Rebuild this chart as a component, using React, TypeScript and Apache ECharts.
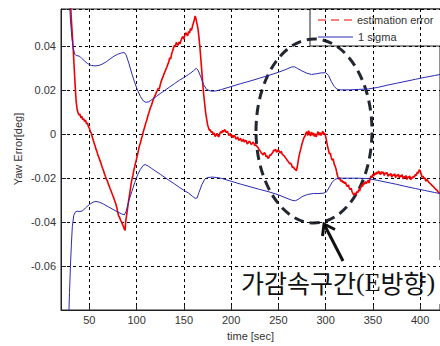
import React, { useEffect, useRef } from 'react';
import * as echarts from 'echarts';

const timeTicks = [50, 100, 150, 200, 250, 300, 350, 400];

const sigmaUpper: [number, number][] = [
  [28.5, 0.065], [30, 0.052], [31.5, 0.044], [33, 0.039], [34.5, 0.0365], [36, 0.0358], [38, 0.0357],
  [40, 0.0354], [42, 0.0345], [45, 0.0333], [48, 0.0322], [52, 0.0313], [56, 0.0311], [60, 0.0313],
  [64, 0.032], [68, 0.033], [72, 0.0343], [76, 0.0355], [80, 0.0364], [84, 0.037], [87, 0.0372],
  [89, 0.036], [92, 0.032], [95, 0.0275], [98, 0.0235], [101, 0.02], [104, 0.0172], [107, 0.0152],
  [110, 0.0145], [113, 0.0148], [117, 0.016], [121, 0.0172], [125, 0.0185], [130, 0.02], [135, 0.0215],
  [140, 0.023], [145, 0.0245], [150, 0.0258], [155, 0.0272], [160, 0.0288], [163, 0.03], [165, 0.0292],
  [168, 0.026], [171, 0.0225], [174, 0.0204], [178, 0.0197], [182, 0.0196], [186, 0.0199], [190, 0.0204],
  [200, 0.0217], [210, 0.023], [220, 0.0242], [230, 0.0255], [240, 0.0268], [250, 0.0282], [258, 0.0295],
  [264, 0.0306], [267, 0.0307], [270, 0.03], [275, 0.0288], [280, 0.0278], [285, 0.0272], [290, 0.0275],
  [295, 0.0279], [300, 0.028], [303, 0.0268], [306, 0.024], [309, 0.0218], [312, 0.0205], [316, 0.0202],
  [325, 0.0202], [335, 0.0204], [345, 0.0206], [355, 0.0213], [365, 0.0223], [375, 0.0232], [385, 0.0241],
  [395, 0.025], [405, 0.0259], [415, 0.0267], [421, 0.0272],
];

const sigmaLower: [number, number][] = [
  [28.3, -0.082], [29, -0.072], [30, -0.06], [31, -0.05], [32, -0.042], [33.5, -0.037], [35, -0.0355],
  [37, -0.035], [40, -0.0352], [43, -0.0348], [46, -0.0335], [50, -0.032], [54, -0.0309], [57, -0.0306],
  [61, -0.031], [65, -0.0318], [70, -0.033], [75, -0.0342], [80, -0.0354], [84, -0.0362], [87, -0.0367],
  [89, -0.035], [92, -0.03], [95, -0.026], [98, -0.022], [101, -0.0185], [104, -0.016], [107, -0.0142],
  [109, -0.0138], [112, -0.0144], [116, -0.0156], [120, -0.0168], [125, -0.0182], [130, -0.0197],
  [135, -0.0212], [140, -0.0226], [145, -0.0241], [150, -0.0255], [155, -0.0268], [159, -0.0282],
  [162, -0.0292], [164, -0.029], [166, -0.0265], [169, -0.023], [172, -0.0205], [175, -0.0197],
  [180, -0.0195], [185, -0.0197], [190, -0.0201], [200, -0.0214], [210, -0.0227], [220, -0.0239],
  [230, -0.0251], [240, -0.0262], [250, -0.0276], [258, -0.029], [264, -0.03], [268, -0.0303],
  [271, -0.0296], [276, -0.0282], [281, -0.0274], [287, -0.027], [293, -0.027], [298, -0.0268],
  [301, -0.0262], [304, -0.024], [307, -0.0218], [310, -0.0205], [314, -0.02], [325, -0.02], [335, -0.02],
  [345, -0.0202], [355, -0.021], [365, -0.0219], [375, -0.0228], [385, -0.0238], [395, -0.0247],
  [405, -0.0256], [415, -0.0265], [421, -0.027],
];

const estimationError: [number, number][] = [
  [28.8, 0.07], [30, 0.06], [31, 0.052], [32, 0.045], [33, 0.038], [34, 0.03], [35, 0.022], [36, 0.015],
  [37, 0.0115], [38, 0.0098], [39, 0.0088], [40, 0.0092], [41, 0.0075], [42, 0.0082], [43, 0.0066],
  [44, 0.0071], [45, 0.0058], [46, 0.0064], [47, 0.0046], [48, 0.0052], [49, 0.0035], [50, 0.0028],
  [51, 0.0012], [52, 0.0005], [53, -0.0012], [54, -0.0025], [55, -0.004], [56, -0.0052], [57, -0.0068],
  [58, -0.0078], [59, -0.0095], [60, -0.0104], [61, -0.0118], [62, -0.0128], [63, -0.0142], [64, -0.0155],
  [65, -0.0166], [66, -0.018], [67, -0.0192], [68, -0.0203], [69, -0.0212], [70, -0.0226], [71, -0.0236],
  [72, -0.0248], [73, -0.0258], [74, -0.027], [75, -0.0281], [76, -0.0292], [77, -0.0305], [78, -0.0318],
  [79, -0.0332], [80, -0.0355], [81, -0.0372], [82, -0.0378], [83, -0.0392], [84, -0.0398], [85, -0.041],
  [86, -0.0418], [87, -0.0432], [87.8, -0.0438], [88.5, -0.0395], [89.3, -0.0372], [90, -0.0352],
  [91, -0.0318], [92, -0.029], [93, -0.0262], [94, -0.0232], [95, -0.0205], [96, -0.019], [97, -0.0165],
  [98, -0.0148], [99, -0.0128], [100, -0.0112], [101, -0.0092], [102, -0.0072], [103, -0.0052],
  [104, -0.004], [105, -0.0022], [106, -0.0008], [107, 0.001], [108, 0.0025], [109, 0.004], [110, 0.0055],
  [111, 0.0068], [112, 0.0085], [113, 0.0098], [114, 0.0112], [115, 0.0125], [116, 0.0135], [117, 0.015],
  [118, 0.0162], [119, 0.0172], [120, 0.018], [121, 0.0192], [122, 0.02], [123, 0.021], [124, 0.0205],
  [125, 0.0225], [126, 0.024], [127, 0.0252], [128, 0.0262], [129, 0.0275], [130, 0.0285], [131, 0.0296],
  [132, 0.0305], [133, 0.0318], [134, 0.0328], [135, 0.0348], [136, 0.0342], [137, 0.0365], [138, 0.0378],
  [139, 0.0392], [140, 0.0405], [141, 0.0398], [142, 0.0418], [143, 0.041], [144, 0.0405], [145, 0.042],
  [146, 0.0412], [147, 0.0428], [148, 0.0438], [149, 0.0445], [150, 0.0432], [151, 0.045], [152, 0.0462],
  [153, 0.0455], [154, 0.0448], [155, 0.0468], [156, 0.046], [157, 0.0482], [158, 0.0472], [159, 0.049],
  [160, 0.0505], [161, 0.052], [162, 0.0538], [163, 0.0522], [164, 0.05], [165, 0.0478], [166, 0.044],
  [167, 0.0395], [168, 0.034], [169, 0.0285], [170, 0.023], [171, 0.018], [172, 0.014], [173, 0.01],
  [174, 0.0072], [175, 0.0045], [176, 0.003], [177, 0.0018], [178, 0.002], [179, 0.0008], [180, 0.0012],
  [181, -0.0002], [182, 0.0006], [183, -0.001], [184, -0.0005], [185, 0.0004], [186, -0.0008],
  [187, -0.0012], [188, 0.0002], [189, 0.0012], [190, 0.0005], [191, 0.0018], [192, 0.001], [193, 0.0022],
  [194, 0.0015], [195, 0.0008], [196, 0.0014], [197, 0.0002], [198, -0.0006], [199, 0.0004], [200, -0.001],
  [201, -0.0004], [202, -0.0016], [203, -0.0006], [204, -0.0008], [205, -0.0022], [206, -0.002],
  [207, -0.0012], [208, -0.0028], [209, -0.0024], [210, -0.0018], [211, -0.0032], [212, -0.003],
  [213, -0.0022], [214, -0.0036], [215, -0.0028], [216, -0.003], [217, -0.0044], [218, -0.004],
  [219, -0.0032], [220, -0.0034], [221, -0.0046], [222, -0.0044], [223, -0.0036], [224, -0.004],
  [225, -0.0052], [226, -0.0048], [227, -0.0054], [228, -0.0058], [229, -0.0066], [230, -0.0072],
  [231, -0.0078], [232, -0.0086], [233, -0.009], [234, -0.0094], [235, -0.0084], [236, -0.0088],
  [237, -0.0102], [238, -0.0098], [239, -0.011], [240, -0.0106], [241, -0.0094], [242, -0.0096],
  [243, -0.0088], [244, -0.0084], [245, -0.0072], [246, -0.0076], [247, -0.0068], [248, -0.0082],
  [249, -0.0078], [250, -0.007], [251, -0.008], [252, -0.0086], [253, -0.0078], [254, -0.009],
  [255, -0.0094], [256, -0.0098], [257, -0.0104], [258, -0.011], [259, -0.0116], [260, -0.0122],
  [261, -0.0128], [262, -0.0134], [263, -0.0132], [264, -0.014], [265, -0.0152], [266, -0.0148],
  [267, -0.0158], [268, -0.016], [269, -0.0166], [270, -0.0148],
  [271, -0.012], [272, -0.0096], [273, -0.0078], [274, -0.0062], [275, -0.0044], [276, -0.003],
  [277, -0.0016], [278, -0.001], [279, 0.0004], [280, 0.0012], [281, -0.0006], [282, 0.0016],
  [283, 0.0004], [284, -0.0008], [285, 0.001], [286, -0.0004], [287, 0.0006], [288, -0.001],
  [289, 0.0002], [290, -0.0012], [291, 0], [292, 0.0012], [293, -0.0004], [294, 0.0008], [295, -0.0006],
  [296, 0.0004], [297, 0.0014], [298, -0.0002], [299, 0.0006], [300, -0.001], [301, -0.003],
  [302, -0.0055], [303, -0.0072], [304, -0.009], [305, -0.0085], [306, -0.0108], [307, -0.0118],
  [308, -0.0112], [309, -0.0135], [310, -0.0145], [311, -0.0158], [312, -0.018], [313, -0.0195],
  [314, -0.0205], [315, -0.0198], [316, -0.0214], [317, -0.0208], [318, -0.022], [319, -0.0214],
  [320, -0.0225], [321, -0.0218], [322, -0.0232], [323, -0.0238], [324, -0.023], [325, -0.0245],
  [326, -0.0252], [327, -0.0246], [328, -0.0262], [329, -0.027], [330, -0.0278], [331, -0.0268],
  [332, -0.0275], [333, -0.026], [334, -0.0266], [335, -0.0252], [336, -0.0258], [337, -0.0242],
  [338, -0.023], [339, -0.0238], [340, -0.0222], [341, -0.0228], [342, -0.0215], [343, -0.0224],
  [344, -0.0218], [345, -0.021], [346, -0.0222], [347, -0.0202], [348, -0.019], [349, -0.0198],
  [350, -0.0182], [351, -0.019], [352, -0.0176], [353, -0.0184], [354, -0.0172], [355, -0.018],
  [356, -0.0168], [357, -0.0176], [358, -0.0184], [359, -0.017], [360, -0.0178], [361, -0.0172],
  [362, -0.0188], [363, -0.0176], [364, -0.018], [365, -0.0174], [366, -0.0192], [367, -0.0182],
  [368, -0.0186], [369, -0.0178], [370, -0.0196], [371, -0.0184], [372, -0.0188], [373, -0.018],
  [374, -0.0198], [375, -0.0186], [376, -0.019], [377, -0.0182], [378, -0.02], [379, -0.0188],
  [380, -0.0192], [381, -0.0184], [382, -0.0204], [383, -0.0192], [384, -0.0196], [385, -0.0188],
  [386, -0.0206], [387, -0.0194], [388, -0.0198], [389, -0.019], [390, -0.0208], [391, -0.0196],
  [392, -0.02], [393, -0.019], [394, -0.0196], [395, -0.0182], [396, -0.0188], [397, -0.0172],
  [398, -0.0178], [399, -0.0162], [400, -0.0166], [401, -0.018], [402, -0.0196], [403, -0.019],
  [404, -0.0202], [405, -0.0198], [406, -0.0214], [407, -0.0206], [408, -0.021], [409, -0.0218],
  [410, -0.0222], [411, -0.0226], [412, -0.023], [413, -0.0236], [414, -0.0238], [415, -0.0244],
  [416, -0.0248], [417, -0.0252], [418, -0.0256], [419, -0.0262], [421, -0.027],
];

const FONT = 'Liberation Sans, Arial, sans-serif';
const TXT = '#333';

export default function App() {
  const ref = useRef<HTMLDivElement>(null);
  useEffect(() => {
    const chart = echarts.init(ref.current!, null, { renderer: 'svg' });
    const tip = [324, 224];
    chart.setOption({
      animation: false,
      backgroundColor: '#fff',
      grid: { left: 61, top: 9, right: -1, bottom: 33, show: true, borderColor: '#222', borderWidth: 1, backgroundColor: 'transparent' },
      xAxis: {
        type: 'value', min: 20, max: 421,
        axisLine: { show: true, onZero: false, lineStyle: { color: '#222', width: 1 } },
        axisTick: { show: true, inside: true, length: 5, customValues: timeTicks, lineStyle: { color: '#222' } },
        axisLabel: { customValues: timeTicks, color: TXT, fontSize: 11, fontFamily: FONT, margin: 4 },
        splitLine: { show: true, lineStyle: { type: [3, 3], color: '#000', width: 1 } },
        name: 'time [sec]', nameLocation: 'middle', nameGap: 20,
        nameTextStyle: { color: TXT, fontSize: 11, fontFamily: FONT },
      },
      yAxis: {
        type: 'value', min: -0.08, max: 0.057, interval: 0.02,
        axisLine: { show: true, onZero: false, lineStyle: { color: '#222', width: 1 } },
        axisTick: { show: true, inside: true, length: 5, lineStyle: { color: '#222' } },
        axisLabel: {
          color: TXT, fontSize: 11, fontFamily: FONT, margin: 5,
          formatter: (v: number) => {
            const k = Math.round(v / 0.02);
            if (Math.abs(v - k * 0.02) > 1e-6) return '';
            if (k === -4) return '';
            if (k === 0) return '0';
            return (k * 0.02).toFixed(2);
          },
        },
        splitLine: { show: true, lineStyle: { type: [3, 3], color: '#000', width: 1 } },
      },
      series: [
        {
          name: 'estimation error', type: 'line', data: estimationError, showSymbol: false,
          lineStyle: { color: '#f00000', width: 1.6 }, z: 2,
        },
        {
          name: '1 sigma', type: 'line', data: sigmaUpper, showSymbol: false,
          lineStyle: { color: '#2a2ab4', width: 1 }, z: 3,
        },
        {
          name: '1 sigma lower', type: 'line', data: sigmaLower, showSymbol: false,
          lineStyle: { color: '#2a2ab4', width: 1 }, z: 3,
        },
      ],
      graphic: [
        {
          type: 'text', x: 18, y: 149, rotation: Math.PI / 2,
          style: { text: 'Yaw Error[deg]', fontSize: 11, fontFamily: FONT, fill: TXT, align: 'center', verticalAlign: 'middle' },
        },
        { type: 'rect', shape: { x: 310, y: 9, width: 140, height: 37 }, style: { fill: '#fff', stroke: '#222', lineWidth: 1 } },
        { type: 'line', shape: { x1: 318, y1: 20, x2: 353, y2: 20 }, style: { stroke: '#f00000', lineWidth: 1, lineDash: [8, 5] } },
        { type: 'text', x: 357, y: 20, style: { text: 'estimation error', fontSize: 11, fontFamily: FONT, fill: TXT, align: 'left', verticalAlign: 'middle' } },
        { type: 'line', shape: { x1: 318, y1: 37, x2: 353, y2: 37 }, style: { stroke: '#2a2ab4', lineWidth: 1 } },
        { type: 'text', x: 358, y: 37, style: { text: '1 sigma', fontSize: 11, fontFamily: FONT, fill: TXT, align: 'left', verticalAlign: 'middle' } },
        { type: 'ellipse', shape: { cx: 314, cy: 131, rx: 58, ry: 92 }, style: { fill: 'none', stroke: '#222831', lineWidth: 3, lineDash: [10, 6] } },
        { type: 'rect', shape: { x: 226, y: 260, width: 216, height: 44 }, style: { fill: '#fff' } },
        {
          type: 'text', x: 241, y: 282,
          style: {
            text: '{k|가감속구간}{s|(E}{k|방향}{s|)}', align: 'left', verticalAlign: 'middle',
            rich: {
              k: { fontFamily: 'Noto Sans CJK KR', fontSize: 25, fill: '#111' },
              s: { fontFamily: 'Liberation Serif', fontSize: 26, fill: '#111' },
            },
          },
        },
        { type: 'line', shape: { x1: 343, y1: 261, x2: tip[0] + 1, y2: tip[1] + 2 }, style: { stroke: '#111', lineWidth: 3 } },
        { type: 'polyline', shape: { points: [[322.5, 236], tip, [335, 229.5]] }, style: { stroke: '#111', lineWidth: 3, fill: 'none' } },
      ],
    });
    return () => chart.dispose();
  }, []);
  return <div ref={ref} style={{ position: 'absolute', left: 0, top: 0, width: 440, height: 346, background: '#fff' }} />;
}
